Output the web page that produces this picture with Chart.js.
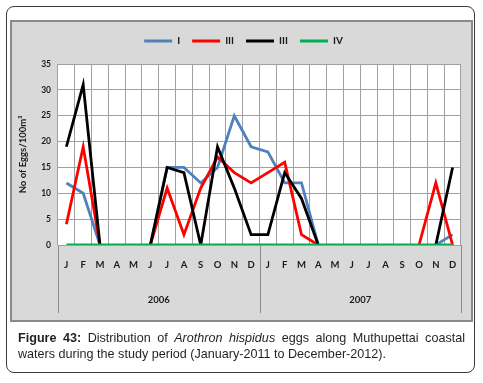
<!DOCTYPE html>
<html>
<head>
<meta charset="utf-8">
<script src="https://cdn.jsdelivr.net/npm/chart.js@4.4.0/dist/chart.umd.min.js"></script>
<style>
  html, body { margin: 0; padding: 0; background: #ffffff; }
  #wrap { position: relative; width: 483px; height: 383px; overflow: hidden; }
  #outer { position: absolute; left: 6px; top: 6px; width: 469px; height: 367px;
           border: 1px solid #3a3a3a; border-radius: 8px; box-sizing: border-box; }
  #panel { position: absolute; left: 10px; top: 20px; width: 463px; height: 302px;
           background: #d9d9d9; border: 2px solid #8a8a8a; box-sizing: border-box; }
  #cv { position: absolute; left: 0; top: 0; }
  #caption { position: absolute; left: 18px; top: 330px; width: 447px;
             font-family: "Liberation Sans", Arial, sans-serif; font-size: 12.6px;
             line-height: 16px; color: #231f20; text-align: justify; }
</style>
</head>
<body>
<div id="wrap">
  <div id="outer"></div>
  <div id="panel"></div>
  <canvas id="cv" width="483" height="383"></canvas>
  <div id="caption"><b>Figure 43:</b> Distribution of <i>Arothron hispidus</i> eggs along Muthupettai coastal waters during the study period (January-2011 to December-2012).</div>
</div>
<script>
const months = ['J','F','M','A','M','J','J','A','S','O','N','D','J','F','M','A','M','J','J','A','S','O','N','D'];
const years = ['2006', '2007'];
const seriesNames = ['I', 'III', 'III', 'IV'];
const seriesI   = [12, 10, 0, null, null, 0, 15, 15, 12, 15, 25, 19, 18, 12, 12, 0, null, null, null, null, null, null, 0, 2];
const seriesII  = [4, 19, 0, null, null, 0, 11, 2, 11, 17, 14, 12, 14, 16, 2, 0, null, null, null, null, null, 0, 12, 0];
const seriesIII = [19, 31, 0, null, null, 0, 15, 14, 0, 19, 11, 2, 2, 14, 9, 0, null, null, null, null, null, null, 0, 15];
const seriesIV  = [0, 0, 0, 0, 0, 0, 0, 0, 0, 0, 0, 0, 0, 0, 0, 0, 0, 0, 0, 0, 0, 0, 0, 0];
const yTicks = { min: 0, max: 35, step: 5 };

const colors = ['#4f81bd', '#ff0000', '#000000', '#00b050'];

const legendGap = {
  id: 'legendGap',
  beforeInit(chart) {
    const lg = chart.legend;
    if (!lg) return;
    const fit = lg.fit;
    lg.fit = function () { fit.call(this); this.height += 8; };
  }
};

const plotBg = {
  id: 'plotBg',
  beforeDraw(chart) {
    const { ctx, chartArea: a } = chart;
    ctx.save();
    ctx.fillStyle = '#ffffff';
    ctx.fillRect(a.left, a.top, a.right - a.left, a.bottom - a.top);
    ctx.restore();
  },
  afterDraw(chart) {
    const { ctx, chartArea: a } = chart;
    const x = chart.scales.x;
    const half = (x.getPixelForValue(1) - x.getPixelForValue(0)) / 2;
    const mid = x.getPixelForValue(11) + half;
    ctx.save();
    ctx.strokeStyle = '#8c8c8c';
    ctx.lineWidth = 1;
    [a.left, mid, a.right].forEach(px => {
      const p = Math.round(px) + 0.5;
      ctx.beginPath();
      ctx.moveTo(p, a.bottom);
      ctx.lineTo(p, a.bottom + 68);
      ctx.stroke();
    });
    ctx.restore();
  }
};

const ds = [seriesI, seriesII, seriesIII, seriesIV].map((d, i) => ({
  label: seriesNames[i],
  data: d,
  borderColor: colors[i],
  backgroundColor: colors[i],
  borderWidth: 2.8,
  pointRadius: 0,
  tension: 0,
  spanGaps: false,
  order: 3 - i
}));

new Chart(document.getElementById('cv'), {
  type: 'line',
  data: { labels: months, datasets: ds },
  plugins: [plotBg, legendGap],
  options: {
    responsive: false,
    animation: false,
    layout: { padding: { left: 26, right: 22, top: 24, bottom: 68 } },
    plugins: {
      tooltip: { enabled: false },
      legend: {
        position: 'top',
        labels: {
          boxWidth: 28,
          boxHeight: 3,
          padding: 12,
          color: '#1a1a1a',
          font: { family: 'Lato', size: 10, weight: 'bold' },
          sort: (a, b) => a.datasetIndex - b.datasetIndex,
          generateLabels(chart) {
            const items = Chart.defaults.plugins.legend.labels.generateLabels(chart);
            items.forEach(it => { it.lineWidth = 0; });
            return items;
          }
        }
      }
    },
    scales: {
      x: {
        type: 'category',
        offset: true,
        weight: 0,
        grid: { offset: true, color: '#a0a0a0', lineWidth: 1, drawTicks: false },
        border: { display: false },
        ticks: {
          padding: 14, color: '#1a1a1a', autoSkip: false, maxRotation: 0,
          font: { family: 'Lato', size: 9.5, weight: 'bold' }
        },
        afterFit(s) { s.height = 30; }
      },
      x2: {
        type: 'category',
        labels: years,
        position: 'bottom',
        offset: true,
        weight: 1,
        grid: { display: false },
        border: { display: false },
        ticks: {
          padding: 11, color: '#1a1a1a',
          font: { family: 'Lato', size: 9.5, weight: 'bold' }
        },
        afterFit(s) { s.height = 40; }
      },
      y: {
        min: yTicks.min,
        max: yTicks.max,
        grid: { color: '#a0a0a0', lineWidth: 1, drawTicks: false },
        border: { display: false },
        ticks: {
          stepSize: yTicks.step, padding: 7, color: '#1a1a1a',
          font: { family: 'Lato', size: 8.5, weight: 'bold' }
        },
        title: {
          display: true,
          text: 'No of Eggs/100m³',
          color: '#1a1a1a',
          padding: { top: -9, bottom: 4 },
          font: { family: 'Lato', size: 9.5, weight: 'bold' }
        },
        afterFit(s) { s.width = 32; }
      }
    }
  }
});
</script>
</body>
</html>
